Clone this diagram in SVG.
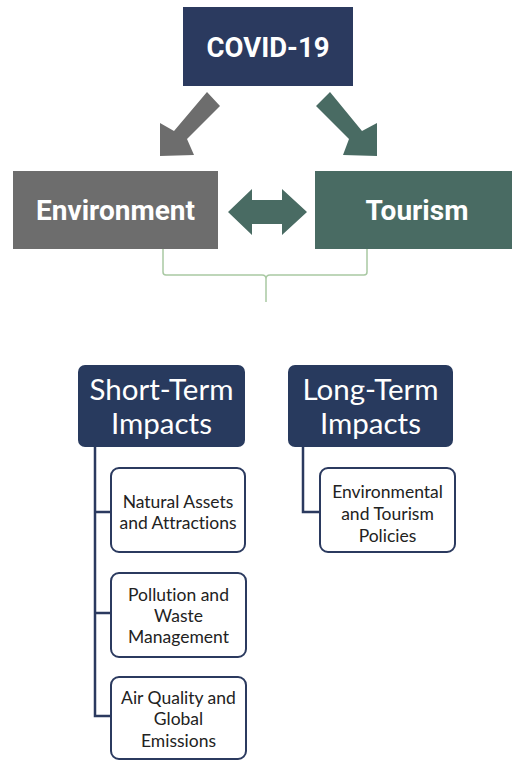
<svg xmlns="http://www.w3.org/2000/svg" width="512" height="760" viewBox="0 0 512 760">
<style>
.top{font-family:Roboto,"Liberation Sans",sans-serif;font-weight:bold;fill:#fff;text-anchor:middle}
.hd{font-family:Lato,"Open Sans",sans-serif;fill:#fff;text-anchor:middle;font-size:29.5px;font-variant-ligatures:none}
.sm{font-family:Lato,"Open Sans",sans-serif;fill:#222;text-anchor:middle;font-size:17.5px;font-variant-ligatures:none}
.card{fill:#fff;stroke:#2b3a5f;stroke-width:2}
.line{fill:none;stroke:#2b3a5f;stroke-width:2.5}
.brace{fill:none;stroke:#a9c9a3;stroke-width:1.5}
</style>
<rect width="512" height="760" fill="#fff"/>
<g id="covid"><rect x="183" y="7" width="170" height="79" fill="#2b3a5f"/><text class="top" x="268" y="57" font-size="27.5">COVID-19</text></g>
<g id="environment"><rect x="13" y="171" width="205" height="78" fill="#6d6d6d"/><text class="top" x="115.5" y="220" font-size="28">Environment</text></g>
<g id="tourism"><rect x="315" y="171" width="197" height="78" fill="#496b63"/><text class="top" x="417" y="220" font-size="28">Tourism</text></g>
<g id="short-term"><rect x="78" y="365" width="167" height="82" rx="7" fill="#283a5e"/><text class="hd" x="161.5" y="400">Short-Term</text><text class="hd" x="161.5" y="434">Impacts</text></g>
<g id="long-term"><rect x="288" y="365" width="165" height="82" rx="7" fill="#283a5e"/><text class="hd" x="370.5" y="400">Long-Term</text><text class="hd" x="370.5" y="434">Impacts</text></g>
<g id="natural"><rect class="card" x="111" y="468" width="134" height="84" rx="8"/><text class="sm" x="178" y="508">Natural Assets</text><text class="sm" x="178" y="529">and Attractions</text></g>
<g id="pollution"><rect class="card" x="111" y="573" width="135" height="84" rx="8"/><text class="sm" x="178.5" y="601">Pollution and</text><text class="sm" x="178.5" y="622">Waste</text><text class="sm" x="178.5" y="643">Management</text></g>
<g id="air"><rect class="card" x="111" y="677" width="135" height="82" rx="8"/><text class="sm" x="178.5" y="704">Air Quality and</text><text class="sm" x="178.5" y="725">Global</text><text class="sm" x="178.5" y="747">Emissions</text></g>
<g id="policies"><rect class="card" x="320" y="468" width="135" height="84" rx="8"/><text class="sm" x="387.5" y="498">Environmental</text><text class="sm" x="387.5" y="520">and Tourism</text><text class="sm" x="387.5" y="542">Policies</text></g>
<g id="connectors">
<polygon fill="#6d6d6d" points="207,92 220,106 187,139 194,155 160,156 160,123 174,131"/>
<polygon fill="#496b63" points="330,92 316,106 349,139 343,155 377,156 377,123 362,131"/>
<polygon fill="#496b63" points="228,212 252,189 252,200 282,200 282,189 307,212 282,235 282,224 252,224 252,235"/>
<path class="brace" d="M163,249 V272 Q163,275 166,275 H262 Q266,275 266,279 V302 M266,279 Q266,275 270,275 H364 Q367,275 367,272 V249"/>
<path class="line" d="M95,447 V716 H111 M95,512 H111 M95,613 H111"/>
<path class="line" d="M303,447 V512 H320"/>
</g>
</svg>
